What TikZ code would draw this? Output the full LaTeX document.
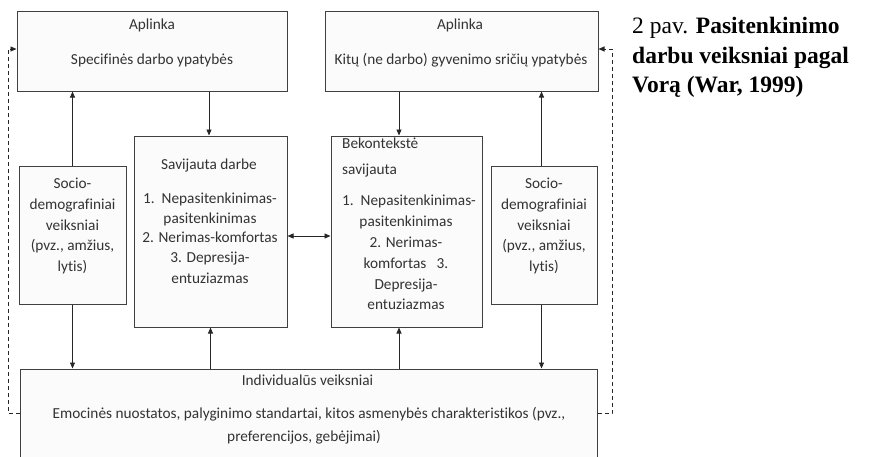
\documentclass[tikz,border=0pt]{standalone}
\usepackage{fontspec}
\setmainfont[Ligatures=NoCommon]{Carlito}
\newfontfamily\capfont{Liberation Serif}
\usetikzlibrary{arrows.meta}
\definecolor{boxline}{HTML}{404040}
\definecolor{boxfill}{HTML}{FBFBFB}
\tikzset{
  box/.style={draw=boxline, fill=boxfill, line width=1pt, inner sep=0pt},
  txt/.style={inner sep=0pt, anchor=mid, font=\fontsize{15.3}{18}\selectfont, text=black!80},
  ltxt/.style={txt, anchor=mid west},
  captxt/.style={inner sep=0pt, anchor=base west, font=\capfont\fontsize{23.5}{28}\selectfont},
  conn/.style={draw=black!85, line width=0.9pt, -{Triangle[length=6pt,width=5pt]}},
  dconn/.style={conn, dash pattern=on 4pt off 3pt},
  dbl/.style={draw=black!85, line width=0.9pt, {Triangle[length=6pt,width=5pt]}-{Triangle[length=6pt,width=5pt]}},
}
\begin{document}
\begin{tikzpicture}[x=1pt,y=-1pt]
\useasboundingbox (0,0) rectangle (872,456);
\clip (0,0) rectangle (872,456);
% boxes
\node[box, minimum width=270, minimum height=80] (tl) at (152,51) {};
\node[box, minimum width=273, minimum height=80] (tr) at (461.5,51) {};
\node[box, minimum width=153, minimum height=191] (sav) at (210.5,231.5) {};
\node[box, minimum width=151, minimum height=191] (bek) at (406.5,231.5) {};
\node[box, minimum width=107, minimum height=138] (sl) at (72.5,235) {};
\node[box, minimum width=106, minimum height=138] (sr) at (544,235) {};
\node[box, minimum width=577, minimum height=100] (bot) at (308.5,419) {};
% texts top-left
\node[txt] (t1a) at (152,27) {Aplinka};
\node[txt] (t1b) at (152,62) {Specifinės darbo ypatybės};
% texts top-right
\node[txt] (t2a) at (460,27) {Aplinka};
\node[txt] (t2b) at (461,62) {Kitų (ne darbo) gyvenimo sričių ypatybės};
% savijauta darbe
\node[txt] (s1) at (209,167) {Savijauta darbe};
\node[txt] (s2) at (210,201) {1.\ \ Nepasitenkinimas-};
\node[txt] (s3) at (210,221) {pasitenkinimas};
\node[txt] (s4) at (210,240) {2. Nerimas-komfortas};
\node[txt] (s5) at (210,260) {3. Depresija-};
\node[txt] (s6) at (210,281) {entuziazmas};
% bekontekste
\node[ltxt] (b1) at (342,146) {Bekontekstė};
\node[ltxt] (b2) at (342,172) {savijauta};
\node[ltxt] (b3) at (342,203) {1.\ \ Nepasitenkinimas-};
\node[txt] (b4) at (406,224) {pasitenkinimas};
\node[txt] (b5) at (406,245) {2. Nerimas-};
\node[txt] (b6) at (406,266) {komfortas\ \ \ 3.};
\node[txt] (b7) at (406,287) {Depresija-};
\node[txt] (b8) at (406,307) {entuziazmas};
% socio left
\node[txt] (l1) at (72.5,186) {Socio-};
\node[txt] (l2) at (72.5,207) {demografiniai};
\node[txt] (l3) at (72.5,228) {veiksniai};
\node[txt] (l4) at (72.5,248) {(pvz., amžius,};
\node[txt] (l5) at (72.5,269) {lytis)};
% socio right
\node[txt] (r1) at (544,186) {Socio-};
\node[txt] (r2) at (544,207) {demografiniai};
\node[txt] (r3) at (544,228) {veiksniai};
\node[txt] (r4) at (544,248) {(pvz., amžius,};
\node[txt] (r5) at (544,269) {lytis)};
% bottom
\node[txt] (i1) at (307.5,383) {Individualūs veiksniai};
\node[txt] (i2) at (309,416) {Emocinės nuostatos, palyginimo standartai, kitos asmenybės charakteristikos (pvz.,};
\node[txt] (i3) at (304,439) {preferencijos, gebėjimai)};
% caption
\node[captxt] (cap1) at (632,33) {2 pav. \textbf{Pasitenkinimo}};
\node[captxt] (cap2) at (632,63) {\textbf{darbu veiksniai pagal}};
\node[captxt] (cap3) at (632,92) {\textbf{Vorą (War, 1999)}};
% connectors
\draw[conn] (sl.north) -- (sl.north |- tl.south);
\draw[conn] (sl.south) -- (sl.south |- bot.north);
\draw[conn] ([xshift=-1.5pt]sav.north |- tl.south) -- ([xshift=-1.5pt]sav.north);
\draw[conn] (sav.south |- bot.north) -- (sav.south);
\draw[conn] ([xshift=-7.5pt]bek.north |- tr.south) -- ([xshift=-7.5pt]bek.north);
\draw[conn] ([xshift=-7.5pt]bek.south |- bot.north) -- ([xshift=-7.5pt]bek.south);
\draw[conn] ([xshift=-2.5pt]sr.north) -- ([xshift=-2.5pt]sr.north |- tr.south);
\draw[conn] ([xshift=-2.5pt]sr.south) -- ([xshift=-2.5pt]sr.south |- bot.north);
\draw[dbl] ([yshift=-4.5pt]sav.east) -- ([yshift=-4.5pt]bek.west);
% dashed feedback
\coordinate (dl1) at (8,413);
\coordinate (dl2) at (8,49);
\coordinate (dr1) at (612,413);
\coordinate (dr2) at (612,49);
\draw[dconn] ([yshift=6pt]bot.west) -- (dl1) -- (dl2) -- ([yshift=2pt]tl.west);
\draw[dconn] ([yshift=6pt]bot.east) -- (dr1) -- (dr2) -- ([yshift=2pt]tr.east);
\end{tikzpicture}
\end{document}
